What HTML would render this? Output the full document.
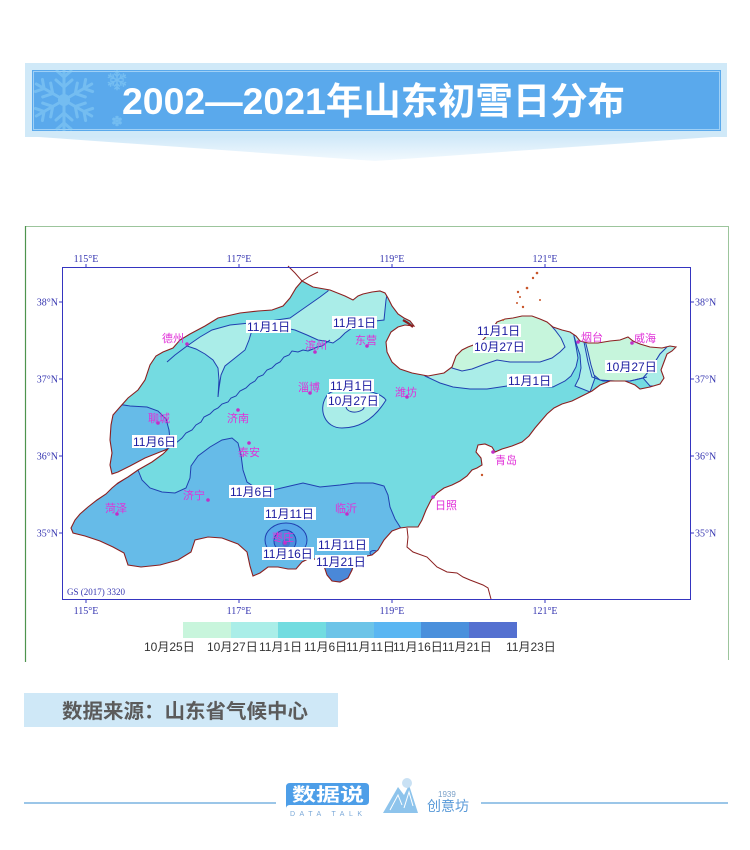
<!DOCTYPE html>
<html><head><meta charset="utf-8"><style>
html,body{margin:0;padding:0;background:#fff;width:750px;height:850px;overflow:hidden}
svg{display:block}
</style></head><body>
<svg width="750" height="850" viewBox="0 0 750 850" xmlns="http://www.w3.org/2000/svg" font-family="'Liberation Sans','Noto Sans CJK SC',sans-serif">
<defs>
<linearGradient id="tri" x1="0" y1="0" x2="0" y2="1"><stop offset="0" stop-color="#cfe8f8"/><stop offset="1" stop-color="#f2f9fe"/></linearGradient>
<clipPath id="ban"><rect x="32" y="70" width="689" height="61"/></clipPath>
<clipPath id="land"><path id="landp" d="M302,281 L313,287 L330,290 L345,296 L353,300 L358,296 L363,294 L372,292 L380,291 L385,293 L388,298 L392,306 L398,314 L404,318 L410,321 L414,326 L405,325 L398,327 L391,332 L386,342 L387,352 L392,362 L400,369 L412,373 L428,376 L444,373 L452,367 L456,356 L462,350 L468,347 L476,344 L483,340 L490,332 L497,322 L505,319 L513,318 L522,316 L532,316 L540,319 L547,322 L553,327 L562,330 L570,332 L576,336 L580,341 L588,343 L598,343 L610,341 L620,340 L628,337 L633,341 L640,344 L650,347 L662,348 L670,346 L676,347 L672,351 L667,354 L664,362 L661,370 L664,378 L660,384 L650,387 L640,389 L635,385 L625,381 L610,381 L600,385 L592,391 L582,396 L572,401 L562,404 L554,408 L547,414 L541,421 L535,428 L529,436 L522,442 L512,446 L502,449 L495,452 L492,447 L485,444 L478,445 L476,452 L481,458 L482,465 L477,468 L472,470 L467,476 L460,481 L452,485 L444,488 L437,493 L431,500 L426,510 L422,520 L418,527 L408,527 L400,528 L392,531 L384,540 L378,550 L372,555 L362,557 L355,560 L352,570 L348,578 L340,582 L332,581 L327,575 L324,566 L318,560 L310,558 L302,562 L296,569 L288,569 L278,567 L268,567 L260,573 L253,576 L250,566 L247,552 L238,544 L222,538 L208,537 L195,540 L191,552 L178,560 L160,565 L141,567 L128,565 L124,553 L113,547 L100,541 L85,536 L73,533 L71,528 L75,520 L80,514 L88,507 L97,500 L106,494 L112,488 L118,483 L128,477 L138,470 L152,462 L163,454 L168,449 L160,452 L145,458 L130,466 L118,472 L112,474 L110,465 L112,453 L110,440 L111,425 L113,415 L120,407 L128,398 L138,390 L145,380 L150,365 L156,356 L163,352 L173,348 L180,340 L190,334 L205,326 L218,318 L240,313 L258,311 L272,310 L283,306 L290,298 L296,288 Z"/></clipPath>
</defs>

<!-- Banner -->
<rect x="25" y="63" width="702" height="74" fill="#d0e9f8"/>
<path d="M25,136 L727,136 L375,161 Z" fill="url(#tri)"/>
<rect x="32" y="70" width="689" height="61" fill="#5aa9ec"/>
<rect x="33.5" y="71.5" width="686" height="58" fill="none" stroke="#9fd0f6" stroke-width="1"/>
<g clip-path="url(#ban)" stroke="#8fd2f7" stroke-width="3" stroke-linecap="round" fill="none" opacity="0.5">
  <g transform="translate(64,100)">
    <g id="arm"><line x1="0" y1="0" x2="0" y2="-32"/><polyline points="-8,-20 0,-13 8,-20"/><polyline points="-7,-29 0,-23 7,-29"/></g>
    <use href="#arm" transform="rotate(60)"/><use href="#arm" transform="rotate(120)"/><use href="#arm" transform="rotate(180)"/><use href="#arm" transform="rotate(240)"/><use href="#arm" transform="rotate(300)"/>
    <circle r="6" fill="#8fd2f7" stroke="none"/>
  </g>
  <g transform="translate(117,80) scale(0.3)" stroke-width="5">
    <use href="#arm"/><use href="#arm" transform="rotate(60)"/><use href="#arm" transform="rotate(120)"/><use href="#arm" transform="rotate(180)"/><use href="#arm" transform="rotate(240)"/><use href="#arm" transform="rotate(300)"/>
  </g>
  <g transform="translate(117,121) scale(0.15)" stroke-width="8">
    <use href="#arm"/><use href="#arm" transform="rotate(60)"/><use href="#arm" transform="rotate(120)"/><use href="#arm" transform="rotate(180)"/><use href="#arm" transform="rotate(240)"/><use href="#arm" transform="rotate(300)"/>
  </g>
</g>
<text x="122" y="114" font-size="37" font-weight="bold" fill="#ffffff" textLength="503" lengthAdjust="spacingAndGlyphs">2002—2021年山东初雪日分布</text>

<!-- Chart frame -->
<line x1="25" y1="226.5" x2="728" y2="226.5" stroke="#9cc59c" stroke-width="1"/>
<line x1="25.5" y1="226" x2="25.5" y2="662" stroke="#4e944e" stroke-width="1.2"/>
<line x1="728.5" y1="226" x2="728.5" y2="660" stroke="#9cc59c" stroke-width="1"/>

<!-- Map fills -->
<use href="#landp" fill="#74dbe1"/>
<g clip-path="url(#land)" stroke="#2040b0" stroke-width="1">
  <path d="M138,470 L142,480 L150,488 L162,492 L175,493 L186,488 L190,478 L191,466 L198,456 L210,447 L222,440 L232,438 L238,443 L241,455 L243,470 L247,482 L256,488 L273,490 L290,486 L303,483 L320,487 L340,485 L355,483 L373,483 L384,486 L388,495 L390,507 L395,519 L402,530 L420,610 L40,610 L40,500 L117,484 Z" fill="#66bbe8"/>
  <path d="M100,400 L117,404 L130,406 L147,407 L158,411 L166,419 L169,430 L170,440 L169,448 L112,476 L95,470 Z" fill="#66bbe8"/>
  <path d="M187,346 L200,337 L212,330 L230,325 L250,323 L270,321 L290,318 L300,311 L310,304 L320,297 L328,291 L330,280 L390,280 L386,300 L384,320 L375,321 L360,325 L352,328 L345,333 L340,338 L333,343 L325,341 L318,340 L307,335 L295,330 L285,328 L265,329 L252,330 L249,340 L245,350 L235,358 L225,366 L221,375 L219,388 L218,397 L219,380 L218,368 L213,360 L205,354 L196,349 Z" fill="#aaede8"/>
  <path d="M326,397 C318,410 325,428 342,428 C360,428 375,418 386,400 C380,392 360,388 340,390 C332,391 328,393 326,397 Z" fill="#aaede8"/>
  <path d="M346,405 C345,412 355,414 362,410 C367,407 362,402 355,403 Z" fill="#c6f5dc"/>
  <path d="M425,376 L440,383 L453,387 L470,389 L487,389 L507,386 L530,386 L553,387 L565,381 L571,376 L576,367 L578,358 L576,346 L574,336 L570,300 L420,300 L415,360 Z" fill="#aaede8"/>
  <path d="M452,368 L462,371 L472,369 L485,364 L497,360 L510,362 L525,362 L540,362 L552,358 L560,352 L565,347 L561,338 L555,330 L548,322 L545,300 L450,300 L448,360 Z" fill="#c6f5dc"/>
  <path d="M574,336 L577,346 L580,355 L581,368 L579,378 L575,386 L590,392 L595,378 L592,365 L588,350 L585,340 L580,325 Z" fill="#aaede8"/>
  <path d="M585,340 L588,352 L591,365 L594,375 L600,380 L615,381 L630,381 L643,378 L650,370 L655,362 L660,354 L666,348 L670,325 L582,325 Z" fill="#c6f5dc"/>
  <path d="M666,348 L660,354 L655,362 L650,370 L643,378 L650,386 L670,386 L690,345 L680,330 Z" fill="#aaede8"/>
  <ellipse cx="286" cy="540" rx="21" ry="17" fill="#58a8ea"/>
  <ellipse cx="285" cy="541" rx="11" ry="11" fill="#4b8fdc"/>
  <ellipse cx="286" cy="543" rx="4" ry="4" fill="#4a72d0" stroke="none"/>
  <path d="M322,565 L327,577 L333,583 L342,583 L350,576 L353,567 L345,564 Z" fill="#4a88d8"/>
  <ellipse cx="374" cy="553" rx="4" ry="2.5" fill="#58a8ea"/>
</g>
<g fill="none" stroke="#2040b0" stroke-width="1">
  <polyline points="167,362 175,355 187,346"/>
  <polyline points="176,443 182,438 186,433 192,430 196,425 201,422 204,417 210,414 214,410 218,408 222,404 228,402 231,398 236,396 240,391 246,388 250,384 255,381 258,377 263,375 267,370 272,368 276,364 280,362 284,357 289,355 292,351 298,352 303,350 308,351 313,349 317,347 322,346 326,343 330,340"/>
  <polyline points="584,342 588,362 592,377 603,381 630,381 647,377"/>
</g>

<use href="#landp" fill="none" stroke="#8b2020" stroke-width="1.1"/>
<g fill="none" stroke="#8b2020" stroke-width="1">
  <polyline points="288,266 295,273 302,281 310,276 318,272"/>
  <polyline points="407,528 408,537 407,547 413,552 427,557 437,567 447,572 457,573 463,577 470,580 483,585 488,588 491,599"/>
  <polyline points="403,320 408,323 413,327" stroke-width="2.2"/>
</g>
<g fill="#c8552a">
  <circle cx="537" cy="273" r="1.3"/><circle cx="533" cy="278" r="1.2"/><circle cx="527" cy="288" r="1.3"/>
  <circle cx="518" cy="292" r="1.2"/><circle cx="517" cy="303" r="1"/><circle cx="523" cy="307" r="1.2"/>
  <circle cx="540" cy="300" r="1"/><circle cx="503" cy="320" r="1"/><circle cx="520" cy="297" r="1"/>
  <circle cx="482" cy="475" r="1.2"/>
</g>

<rect x="62.5" y="267.5" width="628" height="332" fill="none" stroke="#3535c0" stroke-width="1"/>
<g stroke="#3535c0" stroke-width="1">
  <line x1="86" y1="264" x2="86" y2="267"/><line x1="239" y1="264" x2="239" y2="267"/><line x1="392" y1="264" x2="392" y2="267"/><line x1="545" y1="264" x2="545" y2="267"/>
  <line x1="86" y1="600" x2="86" y2="603"/><line x1="239" y1="600" x2="239" y2="603"/><line x1="392" y1="600" x2="392" y2="603"/><line x1="545" y1="600" x2="545" y2="603"/>
  <line x1="59" y1="302" x2="62" y2="302"/><line x1="59" y1="379" x2="62" y2="379"/><line x1="59" y1="456" x2="62" y2="456"/><line x1="59" y1="533" x2="62" y2="533"/>
  <line x1="691" y1="302" x2="694" y2="302"/><line x1="691" y1="379" x2="694" y2="379"/><line x1="691" y1="456" x2="694" y2="456"/><line x1="691" y1="533" x2="694" y2="533"/>
</g>
<g font-family="'Liberation Serif',serif" font-size="10" fill="#3535b0">
  <g text-anchor="middle">
    <text x="86" y="262">115°E</text><text x="239" y="262">117°E</text><text x="392" y="262">119°E</text><text x="545" y="262">121°E</text>
    <text x="86" y="614">115°E</text><text x="239" y="614">117°E</text><text x="392" y="614">119°E</text><text x="545" y="614">121°E</text>
  </g>
  <g text-anchor="end">
    <text x="58" y="305.5">38°N</text><text x="58" y="382.5">37°N</text><text x="58" y="459.5">36°N</text><text x="58" y="536.5">35°N</text>
  </g>
  <text x="695" y="305.5">38°N</text><text x="695" y="382.5">37°N</text><text x="695" y="459.5">36°N</text><text x="695" y="536.5">35°N</text>
  <text x="67" y="595" font-size="9">GS (2017) 3320</text>
</g>

<g fill="#c030c8">
  <circle cx="187" cy="344" r="1.8"/><circle cx="315" cy="352" r="1.8"/><circle cx="367" cy="346" r="1.8"/>
  <circle cx="310" cy="393" r="1.8"/><circle cx="238" cy="410" r="1.8"/><circle cx="158" cy="423" r="1.8"/>
  <circle cx="249" cy="443" r="1.8"/><circle cx="407" cy="397" r="1.8"/><circle cx="578" cy="342" r="1.8"/>
  <circle cx="632" cy="343" r="1.8"/><circle cx="493" cy="452" r="1.8"/><circle cx="433" cy="497" r="1.8"/>
  <circle cx="208" cy="500" r="1.8"/><circle cx="117" cy="514" r="1.8"/><circle cx="347" cy="514" r="1.8"/>
  <circle cx="285" cy="543" r="1.8"/>
</g>
<g font-size="11" fill="#e030d8">
  <text x="162" y="342">德州</text><text x="305" y="349">滨州</text><text x="355" y="344">东营</text>
  <text x="298" y="391">淄博</text><text x="227" y="422">济南</text><text x="148" y="422">聊城</text>
  <text x="238" y="456">泰安</text><text x="395" y="396">潍坊</text><text x="581" y="341">烟台</text>
  <text x="634" y="342">威海</text><text x="495" y="464">青岛</text><text x="435" y="509">日照</text>
  <text x="183" y="499">济宁</text><text x="105" y="512">菏泽</text><text x="335" y="512">临沂</text>
  <text x="272" y="541">枣庄</text>
</g>

<g fill="#ffffff">
  <rect x="246" y="320" width="45" height="13"/><rect x="332" y="316" width="45" height="13"/>
  <rect x="329" y="379" width="45" height="13"/><rect x="327" y="394" width="52" height="13"/>
  <rect x="132" y="435" width="45" height="13"/><rect x="476" y="324" width="45" height="13"/>
  <rect x="473" y="340" width="52" height="13"/><rect x="507" y="374" width="45" height="13"/>
  <rect x="605" y="360" width="52" height="13"/><rect x="229" y="485" width="45" height="13"/>
  <rect x="264" y="507" width="52" height="13"/><rect x="262" y="547" width="52" height="13"/>
  <rect x="317" y="538" width="52" height="13"/><rect x="315" y="555" width="52" height="13"/>
</g>
<g font-size="12" fill="#1a1aa0">
  <text x="247" y="331">11月1日</text><text x="333" y="327">11月1日</text>
  <text x="330" y="390">11月1日</text><text x="328" y="405">10月27日</text>
  <text x="133" y="446">11月6日</text><text x="477" y="335">11月1日</text>
  <text x="474" y="351">10月27日</text><text x="508" y="385">11月1日</text>
  <text x="606" y="371">10月27日</text><text x="230" y="496">11月6日</text>
  <text x="265" y="518">11月11日</text><text x="263" y="558">11月16日</text>
  <text x="318" y="549">11月11日</text><text x="316" y="566">11月21日</text>
</g>

<rect x="183" y="622" width="48" height="16" fill="#c8f5dc"/>
<rect x="231" y="622" width="47" height="16" fill="#aaeee8"/>
<rect x="278" y="622" width="48" height="16" fill="#72dce0"/>
<rect x="326" y="622" width="48" height="16" fill="#6cc4e8"/>
<rect x="374" y="622" width="47" height="16" fill="#5ab6f2"/>
<rect x="421" y="622" width="48" height="16" fill="#4a90dc"/>
<rect x="469" y="622" width="48" height="16" fill="#5470d0"/>
<g font-size="12" fill="#333333">
  <text x="144" y="651">10月25日</text><text x="207" y="651">10月27日</text><text x="259" y="651">11月1日</text>
  <text x="304" y="651">11月6日</text><text x="346" y="651">11月11日</text><text x="393" y="651">11月16日</text>
  <text x="442" y="651">11月21日</text><text x="506" y="651">11月23日</text>
</g>

<rect x="24" y="693" width="314" height="34" fill="#cfe8f7"/>
<text x="62" y="718" font-size="20" font-weight="bold" fill="#5b5b5b" textLength="246" lengthAdjust="spacingAndGlyphs">数据来源：山东省气候中心</text>

<line x1="24" y1="803" x2="276" y2="803" stroke="#7ab4e0" stroke-width="1.5"/>
<line x1="481" y1="803" x2="728" y2="803" stroke="#7ab4e0" stroke-width="1.5"/>
<path d="M290,783 H365 Q369,783 369,787 V801 Q369,805 365,805 H290 Q286,805 286,809 V787 Q286,783 290,783 Z" fill="#4d9ee8"/>
<text x="292" y="801" font-size="18" font-weight="bold" fill="#ffffff" textLength="72" lengthAdjust="spacingAndGlyphs">数据说</text>
<text x="290" y="816" font-size="7" fill="#7aa8d8" textLength="72" lengthAdjust="spacing">DATA TALK</text>
<g fill="#8ec4ec">
  <polygon points="383,813 398,787 404,795 409,785 418,813"/>
  <circle cx="407" cy="783" r="5" fill="#c9e1f4"/>
</g>
<g stroke="#ffffff" stroke-width="1" fill="none">
  <polyline points="390,810 398,795 402,805"/><polyline points="404,808 409,792 413,806"/>
</g>
<text x="438" y="797" font-size="8" fill="#7aa0c8">1939</text>
<text x="427" y="811" font-size="14" fill="#5a9ad8">创意坊</text>
</svg>
</body></html>
